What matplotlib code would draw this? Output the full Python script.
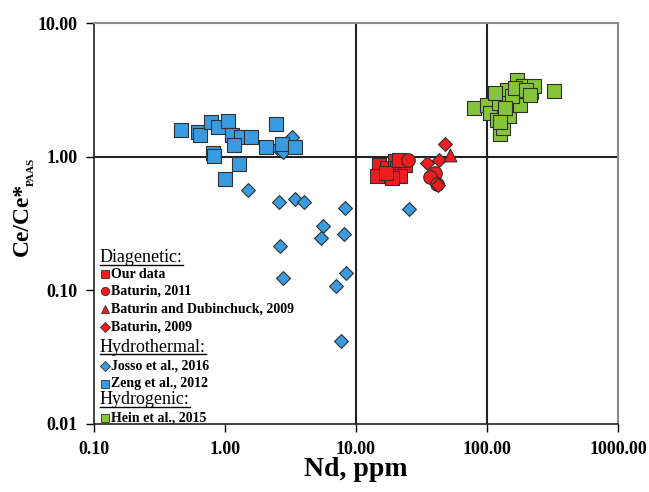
import matplotlib
matplotlib.use('Agg')
import matplotlib.pyplot as plt
from matplotlib.lines import Line2D
from matplotlib.ticker import FixedLocator, FuncFormatter, NullLocator

#--data (Nd ppm, Ce/Ce*)
zeng_nd=[0.46,0.62,0.645,0.78,0.885,1.05,1.13,1.32,1.58,1.17,2.45,2.06,2.72,3.42,0.81,0.824,1.28,1.0]
zeng_ce=[1.59,1.54,1.44,1.83,1.68,1.86,1.46,1.41,1.41,1.23,1.77,1.19,1.25,1.19,1.07,1.02,0.887,0.684]

josso_nd=[3.25,2.49,2.77,1.50,2.58,3.42,4.01,8.24,5.60,5.41,8.10,2.63,2.77,8.39,7.04,7.68,25.4]
josso_ce=[1.41,1.17,1.09,0.566,0.46,0.485,0.46,0.415,0.304,0.247,0.265,0.216,0.124,0.135,0.108,0.042,0.408]

our_nd=[15.0,14.5,17.3,19.9,20.6,23.7,21.7,18.8,16.9,21.3]
our_ce=[0.871,0.721,0.827,0.933,0.827,0.871,0.721,0.696,0.759,0.95]

bat2011_nd=[24.9,40.1,36.7,41.5]
bat2011_ce=[0.95,0.759,0.708,0.628]

bat2009_nd=[47.8,43.0,34.8,42.3]
bat2009_ce=[1.25,0.95,0.902,0.617]

batdub_nd=[52.2]
batdub_ce=[1.035]

hein_nd=[79.6,100,105.4,125.6,132.5,147,178.6,142,169.4,188.4,216.8,228.5,324.6,123.5,119.2,115.1,155.2,137.2,125.6,163.6,198.5,212.9]
hein_ce=[2.33,2.45,2.14,1.49,1.65,2.03,2.45,3.18,3.77,3.35,3.07,3.35,3.12,2.54,1.89,3.02,2.82,2.33,1.83,3.29,3.18,2.91]

blue='#3a9be0' ; red='#f01c1e' ; green='#86c43c'
serif=['Liberation Serif','DejaVu Serif']
plt.rcParams['font.family']=serif

W,H=649,492
fig=plt.figure(figsize=(W/100,H/100),dpi=100)
def fx(px): return px/W
def fy(py): return 1-py/H
ax=fig.add_axes([fx(94),fy(424),fx(618)-fx(94),fy(23)-fy(424)])

ax.set_xscale('log') ; ax.set_yscale('log')
ax.set_xlim(0.1,1000) ; ax.set_ylim(0.01,10)

ax.axvline(10,c='#222222',lw=1.5,zorder=1)
ax.axvline(100,c='#222222',lw=1.5,zorder=1)
ax.axhline(1,c='#222222',lw=1.5,zorder=1)

ek=dict(edgecolors='#303030',linewidths=0.8,zorder=3)
ax.scatter(josso_nd,josso_ce,marker='D',s=50,c=blue,**ek)
ax.scatter(zeng_nd,zeng_ce,marker='s',s=92,c=blue,**ek)
ax.scatter(our_nd,our_ce,marker='s',s=92,c=red,**ek)
ax.scatter(bat2011_nd,bat2011_ce,marker='o',s=95,c=red,**ek)
ax.scatter(bat2009_nd,bat2009_ce,marker='D',s=50,c=red,**ek)
ax.scatter(batdub_nd,batdub_ce,marker='^',s=85,c=red,**ek)
ax.scatter(hein_nd,hein_ce,marker='s',s=92,c=green,**ek)

ax.xaxis.set_major_locator(FixedLocator([0.1,1,10,100,1000]))
ax.yaxis.set_major_locator(FixedLocator([0.01,0.1,1,10]))
ax.xaxis.set_minor_locator(NullLocator()) ; ax.yaxis.set_minor_locator(NullLocator())
fmt=FuncFormatter(lambda v,p: '%.2f'%v)
ax.xaxis.set_major_formatter(fmt) ; ax.yaxis.set_major_formatter(fmt)
ax.tick_params(direction='out',length=6,width=1,labelsize=13,pad=6)
for lab in ax.get_xticklabels()+ax.get_yticklabels():
  lab.set_fontweight('bold')
for s in ['left','bottom']:
  ax.spines[s].set_color('#222222') ; ax.spines[s].set_linewidth(1.2)
for s in ['right','top']:
  ax.spines[s].set_color('#8a8a8a') ; ax.spines[s].set_linewidth(1.5)

#--axis titles
fig.text(fx(356),fy(470),'Nd, ppm',ha='center',va='center',fontsize=20,fontweight='bold')
fig.text(fx(22),fy(256),'Ce/Ce*',rotation=90,ha='center',va='bottom',fontsize=17,fontweight='bold')
fig.text(fx(31),fy(186),'PAAS',rotation=90,ha='center',va='bottom',fontsize=8,fontweight='bold')

#--legend built by hand
headers=[('Diagenetic:',258),('Hydrothermal:',347),('Hydrogenic:',400)]
entries=[('Our data','s',red,274),('Baturin, 2011','o',red,291),
         ('Baturin and Dubinchuck, 2009','^',red,309),('Baturin, 2009','D',red,327),
         ('Josso et al., 2016','D',blue,366),('Zeng et al., 2012','s',blue,384),
         ('Hein et al., 2015','s',green,418)]
htexts=[]
for name,py in headers:
  htexts.append(fig.text(fx(100),fy(py),name,ha='left',va='center',fontsize=13))
for name,mk,col,py in entries:
  ms=6 if mk!='D' else 5
  fig.add_artist(Line2D([fx(105)],[fy(py)],marker=mk,ms=ms,mfc=col,mec='#303030',mew=0.6,
                        ls='none',transform=fig.transFigure))
  fig.text(fx(111),fy(py),name,ha='left',va='center',fontsize=10,fontweight='bold')

fig.canvas.draw()
r=fig.canvas.get_renderer()
for t in htexts:
  bb=t.get_window_extent(r).transformed(fig.transFigure.inverted())
  fig.add_artist(Line2D([bb.x0,bb.x1],[bb.y0+0.004,bb.y0+0.004],c='black',lw=1,transform=fig.transFigure))

fig.savefig('out.png',dpi=100)
